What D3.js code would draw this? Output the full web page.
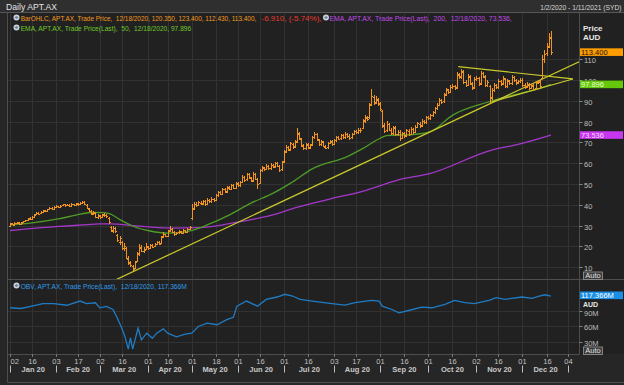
<!DOCTYPE html>
<html><head><meta charset="utf-8">
<script src="https://cdn.jsdelivr.net/npm/d3@7"></script>
<style>
html,body{margin:0;padding:0;background:#1e1e1e;overflow:hidden}
svg{display:block}
text{font-family:"Liberation Sans",Arial,sans-serif}
.nar{font-family:"Liberation Sans Narrow","Liberation Sans",Arial,sans-serif}
</style></head><body><svg id="c" width="624" height="385"></svg>
<script>
// ---------- data ----------
const holidays = ["2020-01-27","2020-04-10","2020-04-13","2020-06-08","2020-12-25","2020-12-28","2021-01-01"];
const tickDates = ["2020-01-02","2020-01-16","2020-02-03","2020-02-17","2020-03-02","2020-03-16","2020-04-01","2020-04-16","2020-05-01","2020-05-18","2020-06-01","2020-06-16","2020-07-01","2020-07-16","2020-08-03","2020-08-17","2020-09-01","2020-09-16","2020-10-01","2020-10-16","2020-11-02","2020-11-16","2020-12-01","2020-12-16","2021-01-04"];
const monthStarts = ["2020-01-02","2020-02-03","2020-03-02","2020-04-01","2020-05-01","2020-06-01","2020-07-01","2020-08-03","2020-09-01","2020-10-01","2020-11-02","2020-12-01","2021-01-04"];
const monthLabels = ["Jan 20","Feb 20","Mar 20","Apr 20","May 20","Jun 20","Jul 20","Aug 20","Sep 20","Oct 20","Nov 20","Dec 20"];
const priceTicks = [10,20,30,40,50,60,70,80,90,100,110];
const obvTicks = [30,60,90];

// daily OHLC, 2020-01-02 .. 2020-12-18 (trading days)
const open = [
 30.0,31.1,30.5,31.3,31.4,31.0,31.5,32.1,32.7,33.5,33.2,34.3,35.4,36.2,35.9,36.5,37.3,37.0,37.9,38.5,38.1,
 38.9,39.3,38.9,39.7,40.2,39.8,40.0,39.6,40.3,40.1,40.6,40.3,41.1,41.4,40.0,38.2,36.8,35.9,36.0,34.0,
 34.8,34.2,35.4,35.1,33.8,29.5,27.5,28.9,25.5,22.0,22.0,19.2,19.0,14.0,12.5,10.5,9.5,13.0,16.8,19.4,17.6,18.8,
 19.8,19.2,20.6,20.2,21.2,22.1,21.6,24.8,25.9,25.2,27.8,28.3,26.8,25.9,26.7,27.1,26.6,27.7,27.1,28.4,
 33.5,38.5,40.6,39.9,41.1,40.7,41.7,40.4,42.4,41.7,42.9,42.4,44.6,46.1,45.3,47.4,46.4,48.3,47.7,49.4,48.1,
 50.4,49.6,51.2,53.4,52.2,54.7,53.0,51.7,54.8,52.2,50.5,56.6,57.9,57.3,58.7,57.6,59.1,58.5,59.9,58.6,57.0,
 61.0,65.8,67.8,66.8,69.3,68.1,70.5,74.2,71.7,68.6,67.4,68.8,67.7,69.0,72.6,73.8,71.2,69.2,70.3,68.0,67.7,69.9,70.4,
 69.4,71.2,72.4,71.9,73.5,72.6,74.0,73.1,72.4,74.1,75.3,74.9,76.0,77.0,80.7,81.8,82.0,88.3,92.0,89.3,90.6,
 88.8,85.0,78.6,75.8,78.8,76.2,74.6,77.0,74.0,75.0,72.2,74.4,73.4,75.6,74.2,76.3,75.2,77.6,79.0,78.2,80.4,79.8,
 82.2,81.7,83.2,84.6,86.7,88.2,90.4,89.8,93.2,95.3,94.4,96.6,97.0,96.5,102.6,101.8,104.0,99.2,97.8,101.6,98.3,96.4,
 100.3,100.8,98.4,103.2,101.6,97.8,97.0,91.8,95.3,97.5,96.8,99.3,98.4,100.6,97.3,99.6,98.7,101.3,99.8,98.8,99.5,
 100.0,97.7,97.0,98.0,96.2,97.3,96.0,98.8,99.2,101.0,110.2,112.8,116.3,120.35];
const high = [
 31.4,31.3,31.5,31.9,31.6,31.7,32.3,32.9,33.8,33.9,34.5,35.6,36.5,36.5,36.9,37.6,37.6,38.2,38.8,38.8,39.3,
 39.8,39.6,39.9,40.6,40.5,40.4,40.3,40.7,40.6,41.0,40.9,41.3,41.9,41.8,40.3,38.6,37.3,37.2,36.4,35.8,
 35.3,35.8,36.2,35.6,34.0,30.0,29.6,29.5,26.0,24.8,22.5,21.5,19.8,15.2,13.2,11.0,12.9,17.2,21.0,20.5,19.6,21.5,
 20.3,21.0,21.0,21.6,22.6,22.6,25.0,26.8,26.2,28.0,29.6,28.8,27.2,27.0,27.8,27.5,28.3,28.1,28.7,30.0,
 40.2,41.3,41.2,41.8,41.6,42.4,42.2,43.1,42.9,43.6,43.4,45.1,46.8,46.6,48.1,47.9,49.0,48.9,50.1,49.9,50.8,
 51.0,51.6,54.2,54.0,55.5,55.3,53.6,55.7,55.4,52.8,57.2,58.7,58.4,59.5,59.2,59.9,59.6,60.7,60.4,59.0,61.2,
 66.2,68.7,68.5,70.2,69.9,71.0,77.0,74.8,72.3,69.2,69.8,69.5,69.4,73.2,75.2,74.4,71.8,71.2,70.9,68.6,70.4,71.3,71.0,
 71.6,73.2,73.0,74.2,74.0,74.9,74.7,73.8,74.6,76.2,76.0,76.9,76.8,81.2,83.0,82.6,88.8,95.6,93.0,92.4,91.5,
 89.5,85.8,79.4,80.2,79.5,77.0,78.0,77.8,76.2,75.8,75.2,75.1,76.6,76.4,77.3,77.0,78.3,80.0,79.8,81.2,81.0,82.8,
 82.9,83.8,85.2,87.2,88.8,91.2,91.0,93.7,96.3,95.9,97.5,98.0,97.8,104.0,103.5,105.5,104.6,99.8,102.8,102.2,98.9,101.3,
 102.0,101.5,104.2,104.0,102.3,99.9,97.6,96.0,98.6,98.3,100.3,99.9,101.8,101.2,100.6,100.2,102.3,102.0,100.6,100.2,101.0,
 100.8,98.6,98.9,98.7,98.1,97.9,99.3,100.2,99.9,111.8,114.5,118.0,122.5,123.4];
const low = [
 29.8,30.3,30.3,31.0,30.6,30.7,31.3,31.9,32.5,32.7,33.0,34.1,35.2,35.5,35.6,36.3,36.6,36.8,37.6,37.7,37.9,
 38.5,38.5,38.6,39.5,39.4,39.6,39.2,39.4,39.7,39.9,39.9,40.0,40.9,40.3,38.0,36.6,35.3,35.4,33.8,33.5,
 33.2,33.8,34.5,33.9,31.0,27.0,26.8,26.5,22.5,21.0,18.5,17.8,14.0,11.2,10.2,8.6,9.2,12.6,15.8,17.5,17.2,18.3,
 18.4,18.9,19.4,19.9,20.8,20.8,21.3,24.3,24.6,25.0,27.2,26.6,25.4,25.5,26.3,26.1,26.3,26.7,26.9,28.0,
 33.0,37.9,39.2,39.5,40.1,40.2,39.8,40.0,41.1,41.3,41.8,42.0,44.1,44.8,45.0,45.9,46.0,47.2,47.3,47.6,47.8,
 48.8,49.0,50.7,51.4,51.7,52.6,51.0,51.1,52.0,48.0,50.1,56.0,56.6,56.8,57.0,57.1,57.8,58.0,58.2,56.2,56.6,
 60.5,65.2,65.9,66.3,67.2,67.6,70.0,71.4,68.0,66.6,66.8,67.0,67.1,68.6,72.0,71.0,68.5,68.7,67.8,66.9,67.2,69.3,68.6,
 68.9,70.6,71.2,71.5,71.8,72.0,72.5,71.5,71.9,73.6,74.2,74.4,75.0,76.5,79.8,80.4,81.5,87.6,88.2,88.5,87.9,
 85.2,77.2,74.8,75.2,75.5,73.8,74.0,73.2,73.5,71.0,71.8,72.5,72.9,73.4,73.8,74.5,74.8,77.0,77.3,77.8,79.0,79.2,
 80.8,81.0,82.6,84.0,86.0,87.8,88.9,89.2,92.6,93.5,93.8,96.0,95.3,96.0,100.8,100.9,98.3,96.8,97.2,97.9,95.3,95.8,
 99.6,97.3,97.8,101.3,96.8,97.0,89.0,90.8,94.6,95.8,96.1,97.5,97.8,96.4,96.6,97.8,98.0,99.3,98.0,98.1,98.9,
 97.0,95.9,96.3,95.4,95.7,94.9,95.6,98.1,96.6,100.5,108.5,112.0,115.5,112.43];
const close = [
 31.0,30.6,31.2,31.5,30.9,31.4,32.0,32.6,33.4,33.0,34.2,35.3,36.1,35.8,36.6,37.2,36.9,37.8,38.4,38.0,38.9,
 39.4,38.8,39.6,40.3,39.7,40.1,39.5,40.4,40.0,40.7,40.2,41.0,41.5,40.6,38.4,37.0,35.8,36.6,34.2,35.1,
 34.0,35.2,35.0,34.4,31.5,28.0,28.8,27.2,23.0,24.0,19.0,20.0,14.5,12.0,11.0,8.9,12.5,16.5,19.5,18.0,18.5,20.0,
 19.0,20.5,19.8,21.0,22.0,21.2,24.5,26.0,25.0,27.5,28.5,27.0,25.8,26.5,27.2,26.4,27.8,27.0,28.2,29.5,
 38.0,40.5,39.8,41.2,40.6,41.8,40.2,42.5,41.6,43.0,42.2,44.5,46.0,45.2,47.5,46.3,48.4,47.6,49.5,48.0,50.2,
 49.5,51.0,53.5,52.0,54.8,53.2,51.5,55.0,52.5,50.0,56.5,58.0,57.2,58.8,57.5,59.2,58.4,60.0,58.8,56.8,60.5,
 65.5,68.0,66.5,69.5,67.8,70.2,74.5,72.0,68.5,67.2,69.0,67.5,68.8,72.5,74.0,71.5,69.0,70.5,68.2,67.5,69.8,70.6,69.2,
 71.0,72.5,71.8,73.6,72.4,74.2,73.0,72.2,74.0,75.5,74.8,76.2,75.8,80.5,82.0,81.2,88.0,92.5,89.0,91.0,88.5,
 86.0,78.0,75.5,79.0,76.0,74.5,77.2,73.8,75.2,72.0,74.5,73.2,75.8,74.0,76.5,75.0,77.5,79.2,78.0,80.5,79.6,82.0,
 81.5,83.0,84.5,86.5,88.0,90.5,89.6,93.0,95.5,94.2,96.8,97.2,96.0,103.0,101.5,104.5,99.0,97.5,102.0,98.5,96.0,100.5,
 101.0,98.0,103.5,102.0,97.5,99.0,91.5,95.0,97.8,96.5,99.5,98.2,101.0,97.0,99.8,98.5,101.5,100.0,98.6,99.4,100.2,
 97.5,96.8,98.2,96.0,97.4,95.8,98.6,99.5,97.2,110.0,112.5,116.0,120.5,113.4];

// EMA lines (trading-day index, value)
const ema50Day = [0,10,22,30,37,43,46,50,56,64,72,80,84,90,100,110,120,128,138,154,161,169,172,184,192,202,218,233,242,247];
const ema50Val = [30.3,31.3,33.2,35.0,36.3,36.2,35.5,33.0,29.8,27.4,26.4,27.0,28.0,30.3,35.0,40.8,45.5,50.3,57.3,63.2,67.0,72.0,73.3,73.8,75.2,83.0,89.3,93.6,96.0,97.896];
const ema200Day = [0,18,26,33,41,46,56,64,74,87,105,120,128,145,163,177,192,220,231,247];
const ema200Val = [27.6,29.3,29.8,30.3,30.8,30.8,30.0,29.3,28.8,29.0,31.9,35.1,37.8,42.5,47.1,51.9,55.1,66.3,68.8,73.536];

// OBV (millions)
const obvDay = [0,5,10,15,20,26,32,35,39,41,44,47,49,51,52.5,54,55,56,58.5,60,62.5,65,67,70,72,76,80,83,86,90,94.5,99,102,103.6,108,113,117,122,125.5,129,132.4,138,147,153,157.5,165,168.5,170,174.4,177.6,182,188,192.7,198.6,203,207.8,212,218.7,222,226,233.8,238.4,241.6,244.3,247];
const obvVal = [95.2,93.8,98.3,103,103,100,108,103,104.8,95,97.7,92,75.8,56.5,40,16.5,37.7,16.5,56.5,34,46.8,37,46.8,55,46.8,40,44.9,46.8,59.6,66,62.9,72.5,77,98.3,108,98.3,111.2,115.7,120.9,117.6,111.2,108,103,100.2,104.9,109.3,108,98.3,91.9,85.5,90,96.3,95.2,101.6,109.3,104.9,103,109.3,114.5,111.2,115.7,113.2,117.6,120,117.366];

// drawn trend lines [day, price] pairs
const trendStartDay = [48, 204.7, 220];
const trendStartPrice = [3.8, 106.4, 89.5];
const trendEndDay = [260.3, 257, 257];
const trendEndPrice = [109, 100.5, 100.5];

// ---------- build ----------
const tradingDays = [];
for (let d = new Date(Date.UTC(2020,0,2)); d <= new Date(Date.UTC(2021,0,11)); d.setUTCDate(d.getUTCDate()+1)) {
  const wd = d.getUTCDay(), s = d.toISOString().slice(0,10);
  if (wd > 0 && wd < 6 && !holidays.includes(s)) tradingDays.push(s);
}
const di = s => tradingDays.indexOf(s);

const svg = d3.select("#c");
const W = 624, H = 385;
const L = 8, R = 579.5, PT = 13.5, PB = 279.5, OT = 279.5, OB = 354;

const x = d3.scaleLinear().domain([0, tradingDays.length - 1]).range([10, 579.4]);
const yP = d3.scaleLinear().domain([0, 110]).range([288, 59.2]);
const yO = d3.scaleLinear().domain([30, 90]).range([342, 310.5]);

// backgrounds
svg.append("rect").attr("width", W).attr("height", H).attr("fill", "#262626");
svg.append("rect").attr("x", 0).attr("y", 0).attr("width", W).attr("height", 12.5).attr("fill", "#2f2f2f");
svg.append("rect").attr("x", L).attr("y", PT).attr("width", W - L).attr("height", OB - PT).attr("fill", "#212121");

const defs = svg.append("defs");
defs.append("clipPath").attr("id", "cp").append("rect").attr("x", L).attr("y", PT).attr("width", R - L).attr("height", PB - PT);
defs.append("clipPath").attr("id", "co").append("rect").attr("x", L).attr("y", OT).attr("width", R - L).attr("height", OB - OT);

// grids
const grid = svg.append("g").attr("stroke", "#323232").attr("stroke-width", 1);
tickDates.forEach(t => {
  const gx = Math.round(x(di(t))) + 0.5;
  grid.append("line").attr("x1", gx).attr("x2", gx).attr("y1", PT).attr("y2", OB);
});
priceTicks.forEach(v => {
  const gy = Math.round(yP(v)) + 0.5;
  grid.append("line").attr("x1", L).attr("x2", R).attr("y1", gy).attr("y2", gy);
});
obvTicks.forEach(v => {
  const gy = Math.round(yO(v)) + 0.5;
  grid.append("line").attr("x1", L).attr("x2", R).attr("y1", gy).attr("y2", gy);
});

// price panel
const pg = svg.append("g").attr("clip-path", "url(#cp)");
const line = d3.line().curve(d3.curveMonotoneX);
pg.append("path").attr("d", line(ema200Day.map((d, i) => [x(d), yP(ema200Val[i])])))
  .attr("fill", "none").attr("stroke", "#a537cc").attr("stroke-width", 1.3);
pg.append("path").attr("d", line(ema50Day.map((d, i) => [x(d), yP(ema50Val[i])])))
  .attr("fill", "none").attr("stroke", "#4f9b27").attr("stroke-width", 1.3);
trendStartDay.forEach((d, i) => {
  pg.append("line").attr("x1", x(d)).attr("y1", yP(trendStartPrice[i]))
    .attr("x2", x(trendEndDay[i])).attr("y2", yP(trendEndPrice[i]))
    .attr("stroke", "#c9c92c").attr("stroke-width", 1.2);
});
const bars = pg.append("g").attr("stroke", "#f39320").attr("stroke-width", 1).attr("shape-rendering", "crispEdges");
close.forEach((c, i) => {
  const bx = Math.round(x(i)) + 0.5;
  bars.append("line").attr("x1", bx).attr("x2", bx).attr("y1", yP(high[i])).attr("y2", yP(low[i]) + 0.5);
  bars.append("line").attr("x1", bx - 1.2).attr("x2", bx).attr("y1", Math.round(yP(open[i])) + 0.5).attr("y2", Math.round(yP(open[i])) + 0.5);
  bars.append("line").attr("x1", bx).attr("x2", bx + 1.2).attr("y1", Math.round(yP(c)) + 0.5).attr("y2", Math.round(yP(c)) + 0.5);
});

// OBV panel
const og = svg.append("g").attr("clip-path", "url(#co)");
og.append("path").attr("d", d3.line()(obvDay.map((d, i) => [x(d), yO(obvVal[i])])))
  .attr("fill", "none").attr("stroke", "#1f7cc4").attr("stroke-width", 1.3);

// frame lines
const fr = svg.append("g").attr("stroke", "#4d4d4d").attr("stroke-width", 1);
fr.append("line").attr("x1", 0).attr("x2", W).attr("y1", 12.5).attr("y2", 12.5).attr("stroke", "#555");
fr.append("line").attr("x1", L - 0.5).attr("x2", L - 0.5).attr("y1", 13).attr("y2", 382.5);
fr.append("line").attr("x1", L - 0.5).attr("x2", W).attr("y1", 279.5).attr("y2", 279.5);
fr.append("line").attr("x1", L - 0.5).attr("x2", R).attr("y1", OB + 0.5).attr("y2", OB + 0.5);
fr.append("line").attr("x1", R).attr("x2", R).attr("y1", 13).attr("y2", OB + 0.5);
fr.append("line").attr("x1", L - 0.5).attr("x2", W).attr("y1", 382.5).attr("y2", 382.5);

// fit a text into a width by shrinking its font size
function fit(sel, target, maxSize) {
  sel.attr("font-size", maxSize);
  const w = sel.node().getComputedTextLength();
  if (w > target) sel.attr("font-size", (maxSize * target / w).toFixed(2));
  return sel;
}

// title
fit(svg.append("text").attr("x", 6).attr("y", 9.5).attr("fill", "#e2e2e2").text("Daily APT.AX"), 51, 9);
fit(svg.append("text").attr("x", 621.5).attr("y", 9.5).attr("fill", "#d8d8d8").attr("text-anchor", "end")
  .text("1/2/2020 - 1/11/2021 (SYD)"), 81.5, 8.5);

// legend
function icon(cx, cy) {
  svg.append("circle").attr("cx", cx).attr("cy", cy).attr("r", 3).attr("fill", "#c9d2dc");
  svg.append("path").attr("d", `M${cx - 2},${cy} L${cx},${cy - 1.5} L${cx + 2},${cy} L${cx},${cy + 1.5}Z`).attr("fill", "#6b7f95");
}
function legendText(x0, y0, w, color, str) {
  fit(svg.append("text").attr("class", "nar").attr("x", x0).attr("y", y0).attr("fill", color)
    .attr("xml:space", "preserve").text(str), w, 8.5);
}
icon(16.5, 17.5);
legendText(20.7, 20.5, 236, "#f39a1e", "BarOHLC, APT.AX, Trade Price,  12/18/2020, 120.350, 123.400, 112.430, 113.400,");
legendText(261.5, 20.5, 60, "#e8392b", "-6.910, (-5.74%),");
icon(326, 17.5);
legendText(329.5, 20.5, 182.5, "#c04ae6", "EMA, APT.AX, Trade Price(Last),  200,  12/18/2020, 73.536,");
icon(16.5, 27.5);
legendText(20.7, 30.5, 171, "#6fc92a", "EMA, APT.AX, Trade Price(Last),  50,  12/18/2020, 97.896");
icon(16.5, 285.5);
legendText(20.7, 288.5, 166.5, "#2d9be8", "OBV, APT.AX, Trade Price(Last),  12/18/2020, 117.366M");

// right price axis
const ax = svg.append("g").attr("font-size", 7.5).attr("fill", "#bdbdbd");
priceTicks.forEach(v => {
  const ty = Math.round(yP(v)) + 0.5;
  svg.append("line").attr("x1", R).attr("x2", R + 3).attr("y1", ty).attr("y2", ty).attr("stroke", "#8a8a8a");
  ax.append("text").attr("x", 584).attr("y", ty + 3).text(v);
});
svg.append("text").attr("x", 583).attr("y", 31).attr("fill", "#e6e6e6").attr("font-size", 8).attr("font-weight", "bold").text("Price");
svg.append("text").attr("x", 583).attr("y", 40).attr("fill", "#e6e6e6").attr("font-size", 8).attr("font-weight", "bold").text("AUD");
const obvUnitBase = 306.8;
svg.append("text").attr("x", 583).attr("y", obvUnitBase).attr("fill", "#e6e6e6").attr("font-size", 7).attr("font-weight", "bold").text("AUD");
obvTicks.forEach(v => {
  const ty = Math.round(yO(v)) + 0.5;
  svg.append("line").attr("x1", R).attr("x2", R + 3).attr("y1", ty).attr("y2", ty).attr("stroke", "#8a8a8a");
  ax.append("text").attr("x", 584).attr("y", Math.max(ty + 3, obvUnitBase + 8.8)).text(v + "M");
});

// value tags
function tag(yc, fill, tc, str) {
  svg.append("rect").attr("x", 580).attr("y", yc - 3.8).attr("width", 43).attr("height", 7.6).attr("fill", fill);
  fit(svg.append("text").attr("x", 581).attr("y", yc + 2.6).attr("fill", tc).text(str), 41, 7.5);
}
tag(yP(close[close.length - 1]), "#ff9c00", "#111", "113.400");
tag(yP(ema50Val[ema50Val.length - 1]), "#66c80a", "#e8ffd8", "97.896");
tag(yP(ema200Val[ema200Val.length - 1]), "#c936f0", "#f2d8ff", "73.536");
tag(yO(obvVal[obvVal.length - 1]) - 0.8, "#1990e6", "#ffffff", "117.366M");

// Auto buttons
function autoBtn(yTop) {
  svg.append("rect").attr("x", 583.5).attr("y", yTop + 0.5).attr("width", 19).attr("height", 7.5)
    .attr("fill", "#3a3a3a").attr("stroke", "#9a9a9a").attr("stroke-width", 0.8);
  svg.append("text").attr("x", 593).attr("y", yTop + 6.8).attr("text-anchor", "middle").attr("fill", "#e0e0e0")
    .attr("font-size", 7.5).text("Auto");
}
autoBtn(271.5);
autoBtn(346.5);

// bottom time axis
const tg = svg.append("g").attr("font-size", 7.5).attr("fill", "#c0c0c0");
tickDates.forEach((t, k) => {
  const tx = Math.round(x(di(t))) + 0.5;
  svg.append("line").attr("x1", tx).attr("x2", tx).attr("y1", OB).attr("y2", OB + 3).attr("stroke", "#777");
  tg.append("text").attr("x", tx).attr("y", 364).attr("text-anchor", k === 0 ? "start" : "middle").text(t.slice(8, 10));
});
monthStarts.forEach((m, k) => {
  const mx = Math.round(x(di(m))) + 0.5;
  svg.append("line").attr("x1", mx).attr("x2", mx).attr("y1", 365.5).attr("y2", 372.5).attr("stroke", "#bdbdbd");
  if (k < monthLabels.length) {
    const nx = x(di(monthStarts[k + 1]));
    svg.append("text").attr("x", (mx + nx) / 2).attr("y", 372).attr("text-anchor", "middle")
      .attr("font-size", 7.5).attr("font-weight", "bold").attr("fill", "#c8c8c8").text(monthLabels[k]);
  }
});
</script></body></html>
